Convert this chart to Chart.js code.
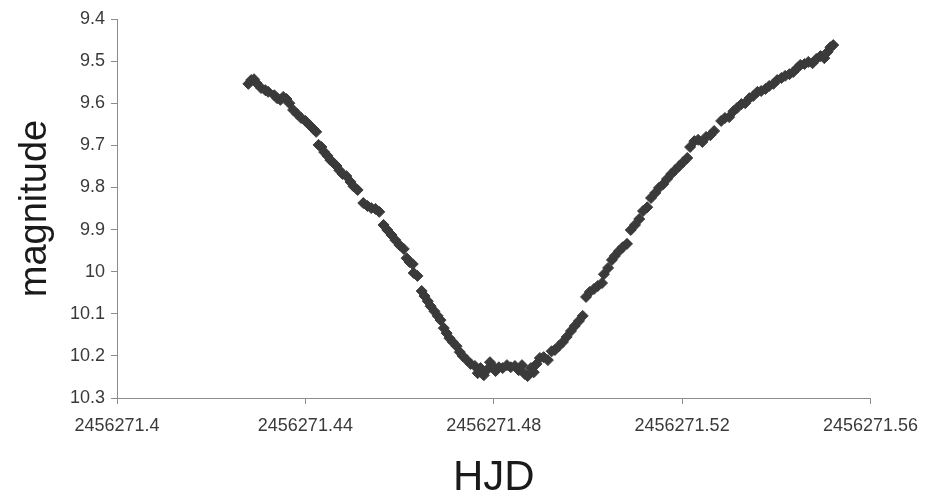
<!DOCTYPE html>
<html>
<head>
<meta charset="utf-8">
<script src="https://cdn.jsdelivr.net/npm/chart.js@4.4.1/dist/chart.umd.min.js"></script>
<style>
  html, body { margin: 0; padding: 0; background: #fff; }
  #wrap { width: 929px; height: 504px; }
</style>
</head>
<body>
<div id="wrap"><canvas id="grafica" width="929" height="504"></canvas></div>
<script>
// light curve
const hjd = [
  2456271.4279, 2456271.4285, 2456271.4291, 2456271.4296, 2456271.4306, 2456271.4315, 2456271.4321,
  2456271.4334, 2456271.4340, 2456271.4347, 2456271.4353, 2456271.4360, 2456271.4366,
  2456271.4374, 2456271.4383, 2456271.4391, 2456271.4400, 2456271.4409, 2456271.4417, 2456271.4423,
  2456271.4428, 2456271.4434, 2456271.4440, 2456271.4447, 2456271.4453, 2456271.4460, 2456271.4466,
  2456271.4472, 2456271.4479, 2456271.4487, 2456271.4496, 2456271.4502, 2456271.4511,
  2456271.4523, 2456271.4532, 2456271.4540, 2456271.4549, 2456271.4557,
  2456271.4566, 2456271.4574, 2456271.4583, 2456271.4591, 2456271.4600, 2456271.4609,
  2456271.4615, 2456271.4621, 2456271.4628, 2456271.4630, 2456271.4638,
  2456271.4647, 2456271.4653, 2456271.4660, 2456271.4666, 2456271.4674, 2456271.4681, 2456271.4687,
  2456271.4694, 2456271.4700, 2456271.4706, 2456271.4713, 2456271.4721,
  2456271.4728, 2456271.4734, 2456271.4743, 2456271.4751,
  2456271.4760, 2456271.4766, 2456271.4772, 2456271.4779, 2456271.4785, 2456271.4792, 2456271.4798,
  2456271.4804, 2456271.4811, 2456271.4819, 2456271.4828, 2456271.4836, 2456271.4845, 2456271.4853,
  2456271.4860, 2456271.4866, 2456271.4872, 2456271.4879, 2456271.4885,
  2456271.4891, 2456271.4898, 2456271.4906, 2456271.4915, 2456271.4923, 2456271.4930,
  2456271.4938, 2456271.4947, 2456271.4955, 2456271.4964, 2456271.4972, 2456271.4981, 2456271.4989,
  2456271.4996, 2456271.5004, 2456271.5013, 2456271.5021, 2456271.5030,
  2456271.5034, 2456271.5043, 2456271.5051, 2456271.5057, 2456271.5066, 2456271.5074, 2456271.5083,
  2456271.5091, 2456271.5100, 2456271.5109, 2456271.5117, 2456271.5126,
  2456271.5134, 2456271.5143, 2456271.5151, 2456271.5160, 2456271.5168, 2456271.5177, 2456271.5185,
  2456271.5194, 2456271.5202, 2456271.5211,
  2456271.5217, 2456271.5226, 2456271.5234, 2456271.5243, 2456271.5251, 2456271.5260, 2456271.5268,
  2456271.5283, 2456271.5291, 2456271.5300, 2456271.5309, 2456271.5317, 2456271.5326, 2456271.5334,
  2456271.5343, 2456271.5351, 2456271.5360,
  2456271.5368, 2456271.5377, 2456271.5385, 2456271.5394, 2456271.5402, 2456271.5411, 2456271.5419,
  2456271.5428, 2456271.5436, 2456271.5445,
  2456271.5451, 2456271.5460, 2456271.5468, 2456271.5477, 2456271.5485, 2456271.5494, 2456271.5502,
  2456271.5509, 2456271.5515, 2456271.5521
];
const magnitude = [
  9.554, 9.545, 9.543, 9.552, 9.564, 9.569, 9.573,
  9.581, 9.588, 9.592, 9.585, 9.590, 9.600,
  9.616, 9.626, 9.635, 9.642, 9.652, 9.661, 9.668,
  9.699, 9.704, 9.716, 9.725, 9.735, 9.742, 9.749,
  9.759, 9.768, 9.773, 9.787, 9.797, 9.806,
  9.837, 9.844, 9.849, 9.851, 9.858,
  9.889, 9.901, 9.913, 9.925, 9.937, 9.946,
  9.968, 9.977, 9.982, 10.003, 10.010,
  10.046, 10.058, 10.070, 10.082, 10.094, 10.105, 10.115,
  10.134, 10.146, 10.158, 10.167, 10.177,
  10.191, 10.200, 10.210, 10.219,
  10.224, 10.241, 10.229, 10.246, 10.234, 10.215, 10.224,
  10.236, 10.227, 10.229, 10.222, 10.227, 10.224, 10.234,
  10.222, 10.243, 10.248, 10.229, 10.239,
  10.219, 10.205, 10.203, 10.210, 10.189, 10.186,
  10.177, 10.167, 10.155, 10.141, 10.129, 10.117, 10.105,
  10.060, 10.048, 10.041, 10.034, 10.027,
  10.006, 9.991, 9.972, 9.963, 9.951, 9.942, 9.934,
  9.901, 9.889, 9.875, 9.856, 9.847,
  9.825, 9.813, 9.801, 9.792, 9.780, 9.768, 9.759,
  9.749, 9.740, 9.730,
  9.704, 9.690, 9.687, 9.692, 9.680, 9.676, 9.666,
  9.642, 9.635, 9.633, 9.619, 9.611, 9.602, 9.600,
  9.588, 9.583, 9.573,
  9.571, 9.566, 9.559, 9.554, 9.545, 9.540, 9.535,
  9.531, 9.526, 9.516,
  9.509, 9.507, 9.502, 9.505, 9.495, 9.488, 9.493,
  9.478, 9.467, 9.462
];
const xTicks = [2456271.4, 2456271.44, 2456271.48, 2456271.52, 2456271.56];
const yTicks = [9.4, 9.5, 9.6, 9.7, 9.8, 9.9, 10, 10.1, 10.2, 10.3];

const points = hjd.map((x, i) => ({ x: x, y: magnitude[i] }));
const axisGray = '#8c8c8c';
const tickFont = { family: 'Liberation Sans, Arial, sans-serif', size: 18 };

const graph = document.querySelector('#grafica');
const lightChart = new Chart(graph, {
  type: 'scatter',
  data: {
    datasets: [{
      label: 'magnitude',
      data: points,
      pointStyle: 'rectRot',
      pointRadius: 5.5,
      backgroundColor: '#3a3a3a',
      borderColor: '#3a3a3a',
      borderWidth: 1
    }]
  },
  options: {
    responsive: false,
    animation: false,
    layout: { padding: { top: 19, right: 58, left: 0, bottom: 0 } },
    plugins: { legend: { display: false }, tooltip: { enabled: false } },
    scales: {
      x: {
        type: 'linear',
        min: xTicks[0],
        max: xTicks[xTicks.length - 1],
        afterBuildTicks: (s) => { s.ticks = xTicks.map(v => ({ value: v })); },
        afterFit: (s) => { s.height = 106; },
        ticks: {
          color: '#3a3a3a',
          font: tickFont,
          padding: 11,
          maxRotation: 0,
          autoSkip: false,
          callback: (v) => String(v)
        },
        grid: { drawOnChartArea: false, drawTicks: true, tickLength: 6, color: axisGray },
        border: { color: axisGray, width: 1 },
        title: {
          display: true,
          text: 'HJD',
          color: '#1a1a1a',
          font: { family: 'Liberation Sans, Arial, sans-serif', size: 42 },
          padding: { top: 0, bottom: 0 }
        }
      },
      y: {
        type: 'linear',
        reverse: true,
        min: yTicks[0],
        max: yTicks[yTicks.length - 1],
        afterBuildTicks: (s) => { s.ticks = yTicks.map(v => ({ value: v })); },
        afterFit: (s) => { s.width = 117; },
        ticks: {
          color: '#3a3a3a',
          font: tickFont,
          padding: 6,
          autoSkip: false,
          callback: (v) => String(v)
        },
        grid: { drawOnChartArea: false, drawTicks: true, tickLength: 6, color: axisGray },
        border: { color: axisGray, width: 1 },
        title: {
          display: true,
          text: 'magnitude',
          color: '#1a1a1a',
          font: { family: 'Liberation Sans, Arial, sans-serif', size: 38 },
          padding: { top: 13, bottom: 0 }
        }
      }
    }
  }
});
</script>
</body>
</html>
